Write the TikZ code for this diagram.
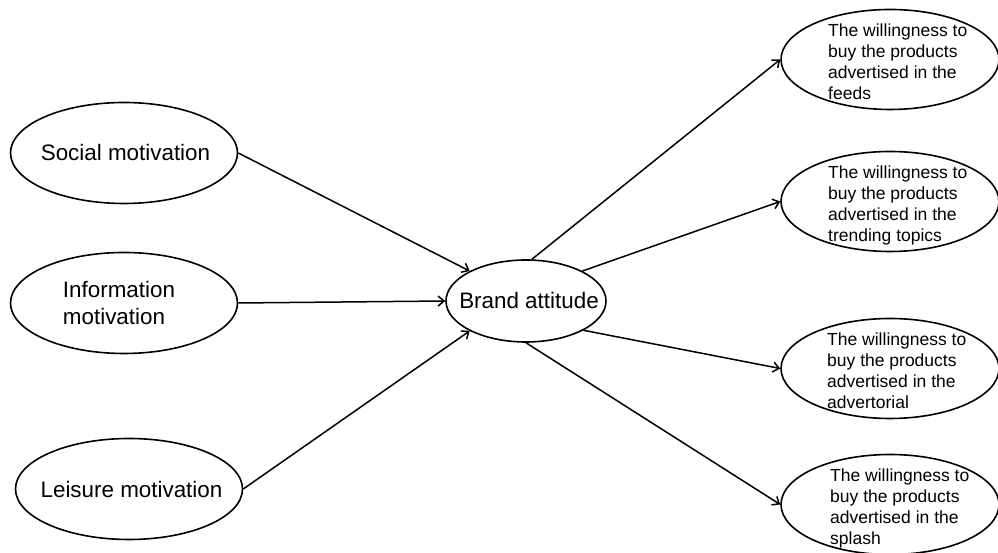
\documentclass[tikz,border=0pt]{standalone}
\usepackage{fontspec}
\setmainfont{Liberation Sans}
\usetikzlibrary{arrows.meta,shapes.geometric}
\begin{document}
\begin{tikzpicture}[x=1pt,y=1pt,
  ell/.style={draw=black,ellipse,line width=1.6pt,inner sep=0pt},
  leftell/.style={ell,minimum width=227pt,minimum height=101pt},
  brandell/.style={ell,minimum width=160pt,minimum height=82pt},
  rightell/.style={ell,minimum width=218pt,minimum height=100pt},
  ltext/.style={inner sep=0pt,align=left,font=\fontsize{22.4}{27}\selectfont},
  rtext/.style={anchor=north west,inner sep=0pt,align=left,
    font=\fontsize{17.5}{21}\selectfont},
  arr/.style={line width=1.5pt,-{Straight Barb[length=6pt,width=10pt]}}]
\useasboundingbox (0,0) rectangle (998,553);
% left
\node[leftell] (soc) at (124,400) {};
\node[leftell] (info) at (124,250) {};
\node[leftell] (leis) at (129,64) {};
\node[ltext] (tsoc) at (125.5,400) {Social motivation};
\node[ltext] (tinfo) at (119,250) {Information\\motivation};
\node[ltext] (tleis) at (131.5,64) {Leisure motivation};
% centre
\node[brandell] (brand) at (526,252) {};
\node[ltext] (tbrand) at (529,252) {Brand attitude};
% right
\node[rightell] (r1) at (890,493.5) {};
\node[rightell] (r2) at (890,351.5) {};
\node[rightell] (r3) at (890,184.5) {};
\node[rightell] (r4) at (890,48.5) {};
\node[rtext] (t1) at ([shift={(-62,35.5)}]r1.center) {The willingness to\\buy the products\\advertised in the\\feeds};
\node[rtext] (t2) at ([shift={(-62,35.5)}]r2.center) {The willingness to\\buy the products\\advertised in the\\trending topics};
\node[rtext] (t3) at ([shift={(-63,35.5)}]r3.center) {The willingness to\\buy the products\\advertised in the\\advertorial};
\node[rtext] (t4) at ([shift={(-60,35.5)}]r4.center) {The willingness to\\buy the products\\advertised in the\\splash};
% connectors
\draw[arr] (soc.east) -- (brand.152);
\draw[arr] (info.east) -- (brand.west);
\draw[arr] (leis.east) -- (brand.208);
\draw[arr] (brand.82) -- (r1.west);
\draw[arr] (brand.28) -- (r2.west);
\draw[arr] (brand.-27) -- (r3.west);
\draw[arr] (brand.south) -- (r4.west);
\end{tikzpicture}
\end{document}
